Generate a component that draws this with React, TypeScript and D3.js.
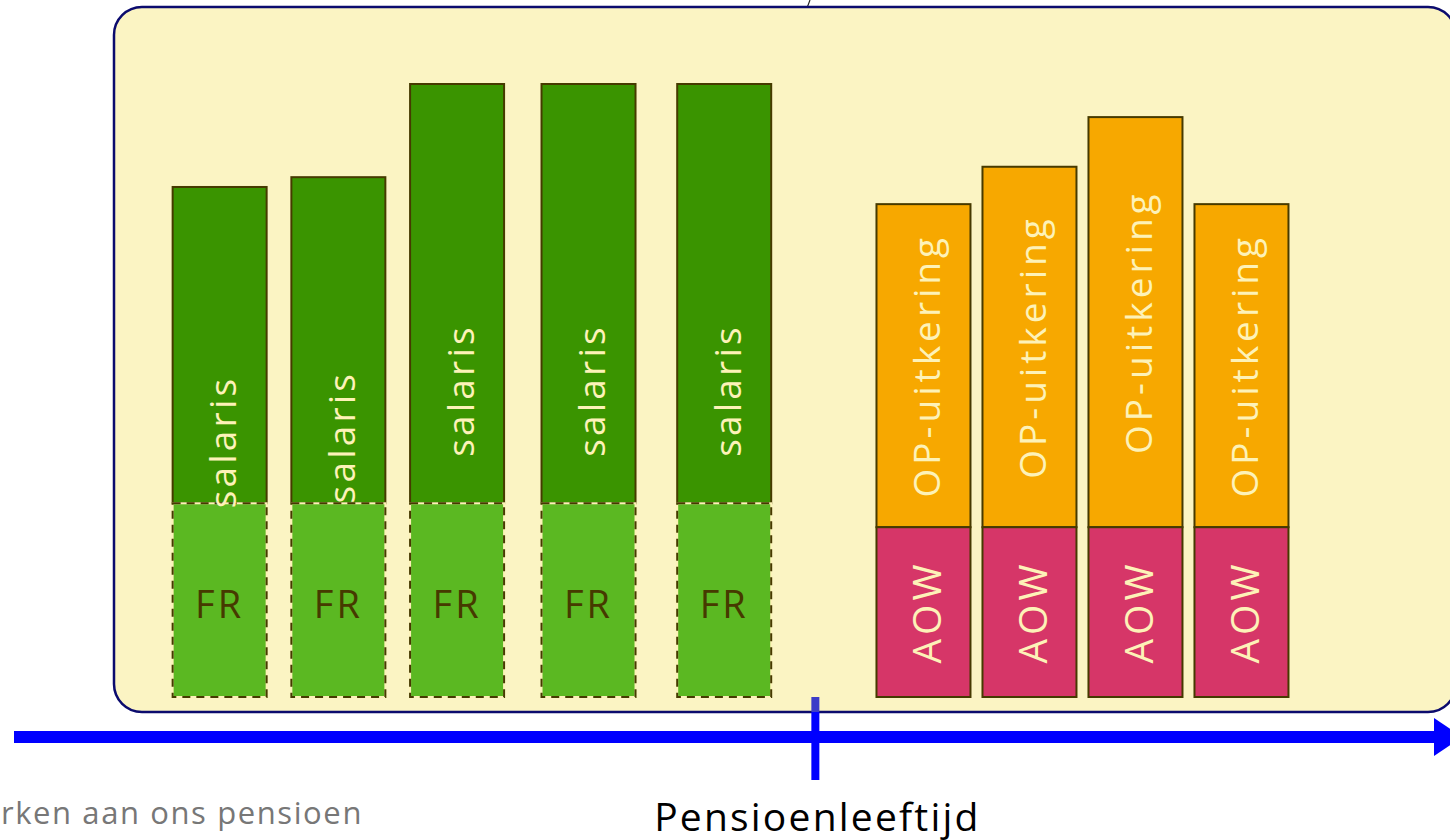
import React from "react";
import * as d3 from "d3";

// ---- data ----
const workPositions = [9.4, 20.6, 31.8, 44.2, 57.0];
const frValues = [31.6, 31.6, 31.6, 31.6, 31.6];
const salaryTotals = [83.2, 84.8, 100, 100, 100];
const pensionPositions = [75.8, 85.8, 95.8, 105.8];
const aowValues = [27.7, 27.7, 27.7, 27.7];
const pensionTotals = [80.4, 86.5, 94.6, 80.4];
const retirementPosition = 65.6;
const labels = { salary: "salaris", fr: "FR", op: "OP-uitkering", aow: "AOW" };
const axisLabel = "Pensioenleeftijd";
const footer = "werken aan ons pensioen";

const W = 1450;
const H = 840;
const FONT = "'Open Sans', 'Noto Sans', sans-serif";
const C = {
  box: "#fbf4c3",
  boxStroke: "#0b0b6e",
  dark: "#3a9400",
  light: "#5bb822",
  orange: "#f7a800",
  pink: "#d63668",
  barStroke: "#463a00",
  cream: "#fdf2b8",
  frText: "#463a00",
  blue: "#0000ff",
};

export default function App() {
  const x = d3.scaleLinear().domain([0, 100]).range([120, 1180]);
  const y = d3.scaleLinear().domain([0, 100]).range([697, 84]);
  const bw = 94;
  const axisY = 737;

  return (
    <svg width={W} height={H} style={{ position: "absolute", left: 0, top: 0 }} fontFamily={FONT}>
      <rect x={0} y={0} width={W} height={H} fill="#fff" />
      <line x1={810} y1={0} x2={807} y2={8} stroke="#222" strokeWidth={1.2} />
      <rect x={114} y={7} width={1342} height={705} rx={28} fill={C.box} stroke={C.boxStroke} strokeWidth={2.5} />

      {workPositions.map((p, i) => {
        const cx = x(p);
        const x0 = cx - bw / 2;
        const yFr = y(frValues[i]);
        const yTop = y(salaryTotals[i]);
        const midAll = (yTop + y(0)) / 2;
        return (
          <g key={"w" + i}>
            <rect x={x0} y={yTop} width={bw} height={yFr - yTop} fill={C.dark} stroke={C.barStroke} strokeWidth={2} />
            <rect x={x0} y={yFr} width={bw} height={y(0) - yFr} fill={C.light} stroke={C.cream} strokeWidth={2} />
            <rect x={x0} y={yFr} width={bw} height={y(0) - yFr} fill="none" stroke={C.barStroke} strokeWidth={2} strokeDasharray="8 6" />
            <text
              transform={`translate(${cx + 2},${midAll}) rotate(-90)`}
              textAnchor="middle"
              dominantBaseline="central"
              fontSize={37}
              letterSpacing={3.2}
              fill={C.cream}
            >
              {labels.salary}
            </text>
            <text
              x={cx}
              y={(yFr + y(0)) / 2 + 3}
              textAnchor="middle"
              dominantBaseline="central"
              fontSize={38}
              letterSpacing={3}
              fill={C.frText}
            >
              {labels.fr}
            </text>
          </g>
        );
      })}

      {pensionPositions.map((p, i) => {
        const cx = x(p);
        const x0 = cx - bw / 2;
        const yA = y(aowValues[i]);
        const yTop = y(pensionTotals[i]);
        return (
          <g key={"p" + i}>
            <rect x={x0} y={yTop} width={bw} height={yA - yTop} fill={C.orange} stroke={C.barStroke} strokeWidth={2} />
            <rect x={x0} y={yA} width={bw} height={y(0) - yA} fill={C.pink} stroke={C.barStroke} strokeWidth={2} />
            <text
              transform={`translate(${cx + 2},${(yTop + yA) / 2}) rotate(-90)`}
              textAnchor="middle"
              dominantBaseline="central"
              fontSize={37}
              letterSpacing={4}
              fill={C.cream}
            >
              {labels.op}
            </text>
            <text
              transform={`translate(${cx + 2},${(yA + y(0)) / 2}) rotate(-90)`}
              textAnchor="middle"
              dominantBaseline="central"
              fontSize={39}
              letterSpacing={4}
              fill={C.cream}
            >
              {labels.aow}
            </text>
          </g>
        );
      })}

      {/* time axis */}
      <line x1={14} x2={1436} y1={axisY} y2={axisY} stroke={C.blue} strokeWidth={12} />
      <polygon points={`1434,718 1462,${axisY} 1434,756`} fill={C.blue} />
      <line x1={x(retirementPosition)} x2={x(retirementPosition)} y1={712} y2={780} stroke={C.blue} strokeWidth={8} />
      <line x1={x(retirementPosition)} x2={x(retirementPosition)} y1={697} y2={712} stroke="#3c3cc8" strokeWidth={8} />

      <text x={x(retirementPosition) + 2} y={831} textAnchor="middle" fontSize={39} letterSpacing={2.2} fill="#000">
        {axisLabel}
      </text>
      <text x={363} y={824} textAnchor="end" fontSize={31} letterSpacing={1.6} fill="#777">
        {footer}
      </text>
    </svg>
  );
}
